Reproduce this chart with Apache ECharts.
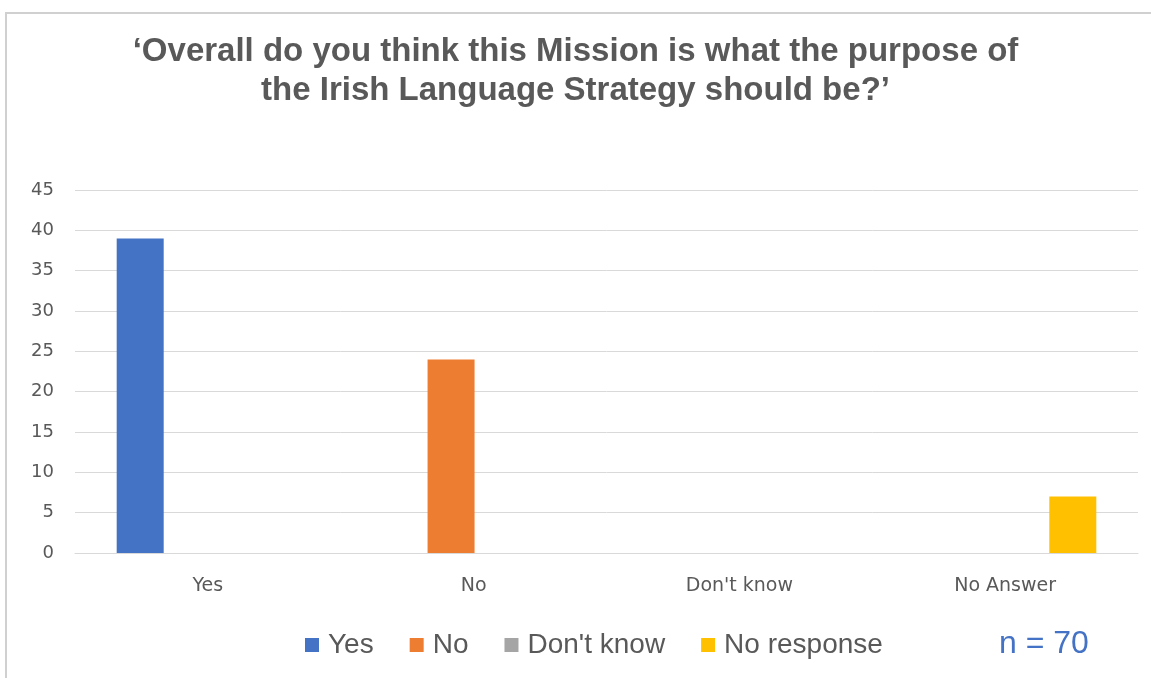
<!DOCTYPE html>
<html><head><meta charset="utf-8">
<script src="https://cdn.jsdelivr.net/npm/echarts@6/dist/echarts.min.js"></script>
<style>html,body{margin:0;padding:0;background:#fff}#c{width:1151px;height:678px}</style>
</head><body><div id="c"></div>
<script>
const categories = ['Yes', 'No', "Don't know", 'No Answer'];
const seriesNames = ['Yes', 'No', "Don't know", 'No response'];
const yesValues = [39, null, null, null];
const noValues = [null, 24, null, null];
const dontKnowValues = [null, null, 0, null];
const noResponseValues = [null, null, null, 7];
const yTicks = [0, 5, 10, 15, 20, 25, 30, 35, 40, 45];
const colors = ['#4472C4', '#ED7D31', '#A5A5A5', '#FFC000'];

const chart = echarts.init(document.getElementById('c'), null, {renderer: 'canvas'});
const dataSets = [yesValues, noValues, dontKnowValues, noResponseValues];
chart.setOption({
  animation: false,
  backgroundColor: '#fff',
  color: colors,
  title: {
    text: "‘Overall do you think this Mission is what the purpose of\nthe Irish Language Strategy should be?’",
    left: 'center', top: 27,
    textStyle: {fontFamily: 'Liberation Sans', fontWeight: 'bold', fontSize: 33, color: '#595959', lineHeight: 39}
  },
  graphic: [{
    type: 'rect', shape: {x: 6, y: 13, width: 1160, height: 680},
    style: {fill: 'none', stroke: '#d0d0d0', lineWidth: 2}, silent: true
  }, {
    type: 'text', left: 999, top: 628,
    style: {text: 'n = 70', fontSize: 32, fontFamily: 'Liberation Sans', fill: '#4472C4'}
  }],
  legend: {
    left: 300, top: 626, itemWidth: 14, itemHeight: 14, itemGap: 36, icon: 'rect',
    textStyle: {fontSize: 28, fontFamily: 'Liberation Sans', color: '#595959', padding: [0, 0, 0, 4]},
    data: seriesNames
  },
  grid: {left: 75, right: 13, top: 190, bottom: 125},
  xAxis: {
    type: 'category', data: categories,
    axisLine: {lineStyle: {color: '#d9d9d9'}}, axisTick: {show: false},
    axisLabel: {fontSize: 19, fontFamily: 'DejaVu Sans', color: '#595959', margin: 24}
  },
  yAxis: {
    type: 'value', min: 0, max: 45, interval: 5,
    axisLine: {show: false}, axisTick: {show: false},
    splitLine: {lineStyle: {color: '#d9d9d9', width: 1}},
    axisLabel: {fontSize: 18, fontFamily: 'DejaVu Sans', color: '#595959', margin: 21,
      formatter: v => yTicks.includes(v) ? String(v) : ''}
  },
  series: seriesNames.map((n, i) => ({
    name: n, type: 'bar', data: dataSets[i], barWidth: 47, barGap: '-4%',
    itemStyle: {color: colors[i]}
  }))
});
</script></body></html>
